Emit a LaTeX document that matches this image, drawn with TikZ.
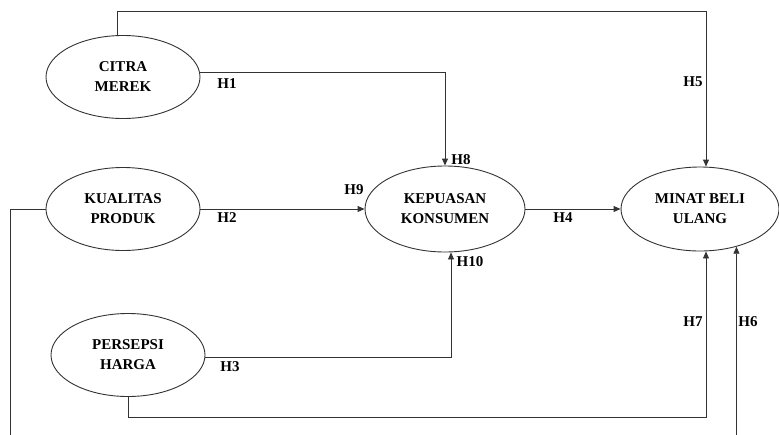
\documentclass[tikz,border=0pt]{standalone}
\usepackage{fontspec}
\setmainfont{Liberation Serif}
\usetikzlibrary{shapes.geometric, arrows.meta}

\begin{document}
\begin{tikzpicture}[x=1pt, y=-1pt,
        var/.style={draw=black!80, ellipse, line width=0.9pt, minimum width=154pt, minimum height=83pt, align=center, font=\fontsize{15}{20}\selectfont\bfseries},
        arr/.style={-{Triangle[length=7pt, width=6pt]}, line width=0.9pt, draw=black!80},
        hyp/.style={font=\fontsize{15}{18}\selectfont\bfseries, inner sep=0pt}
    ]
        \useasboundingbox (0,0) rectangle (779,434);
        \clip (0,0) rectangle (779,434);
        \node[var] (citra) at (123,77) {CITRA\\MEREK};
        \node[var] (kualitas) at (123,209) {KUALITAS\\PRODUK};
        \node[var] (persepsi) at (128,355) {PERSEPSI\\HARGA};
        \node[var, minimum width=160pt, minimum height=86pt] (kepuasan) at (445,209) {KEPUASAN\\KONSUMEN};
        \node[var, minimum width=158pt, minimum height=84pt] (minat) at (700,209) {MINAT BELI\\ULANG};
        % bends of the long connectors
        \coordinate (corner5) at (706,11);
        \coordinate (corner7) at (706,417);
        \coordinate (corner6) at (10,450);
        \draw[arr] ([yshift=5pt]citra.east) -| (kepuasan.north);
        \draw[arr] (kualitas.east) -- (kepuasan.west);
        \draw[arr] ([yshift=-2pt]persepsi.east) -| ([xshift=6pt]kepuasan.south);
        \draw[arr] (kepuasan.east) -- (minat.west);
        \draw[arr] ([xshift=-6pt]citra.north) |- (corner5) -- ([xshift=6pt]minat.north);
        \draw[arr] (kualitas.west) -| (corner6) -| (minat.-46);
        \draw[arr] (persepsi.south) |- (corner7) -- ([xshift=6pt]minat.south);
        \node[hyp] (h1) at (227,84) {H1};
        \node[hyp] (h2) at (227,218) {H2};
        \node[hyp] (h3) at (230,367) {H3};
        \node[hyp] (h4) at (563,218) {H4};
        \node[hyp] (h5) at (693,82) {H5};
        \node[hyp] (h6) at (748,322) {H6};
        \node[hyp] (h7) at (693,322) {H7};
        \node[hyp] (h8) at (461,160) {H8};
        \node[hyp] (h9) at (354,190) {H9};
        \node[hyp] (h10) at (470,262) {H10};
    \end{tikzpicture}
\end{document}
